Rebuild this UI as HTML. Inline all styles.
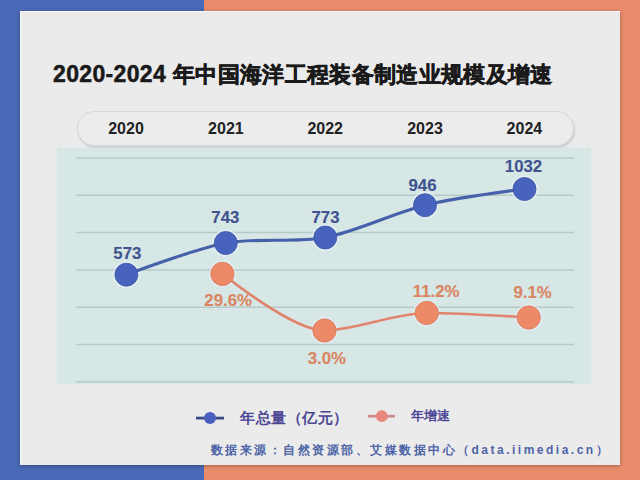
<!DOCTYPE html>
<html><head><meta charset="utf-8">
<style>
html,body{margin:0;padding:0;width:640px;height:480px;overflow:hidden;}
body{position:relative;font-family:"Liberation Sans",sans-serif;background:#4a69b7;}
.bgL{position:absolute;left:0;top:0;width:204px;height:480px;background:#4a69b7;}
.bgR{position:absolute;left:204px;top:0;width:436px;height:480px;background:#e88c6c;}
.card{position:absolute;left:20px;top:11px;width:600px;height:454px;background:#ebebeb;box-shadow:0 1px 4px rgba(0,0,0,0.3), inset 1px 1px 0 rgba(255,255,255,0.7);}
.title{position:absolute;left:53px;top:61px;font-size:23px;font-weight:bold;color:#1a1a1a;white-space:nowrap;letter-spacing:0.35px;-webkit-text-stroke:0.5px #1a1a1a;}
.tc{left:173px;top:60px;font-size:22px;letter-spacing:0.34px;-webkit-text-stroke:0.6px #1a1a1a;}
.pill{position:absolute;left:77px;top:111px;width:497px;height:35px;box-sizing:border-box;border-radius:18px;background:#ececec;border:1px solid rgba(0,0,0,0.08);
 box-shadow:1px 2px 2px rgba(0,0,0,0.13);}
.yr{position:absolute;top:120px;width:80px;text-align:center;font-size:16px;font-weight:bold;color:#222;}
.plot{position:absolute;left:57px;top:148px;width:534px;height:236px;background:#d6e7e6;box-shadow:0 0 1.5px #d6e7e6;}
.lbl{position:absolute;-webkit-text-stroke:0.15px currentColor;font-size:16.8px;font-weight:bold;white-space:nowrap;text-align:center;width:80px;}
.b{color:#41538f;}
.o{color:#d98561;}
.leg{position:absolute;font-size:14px;font-weight:bold;color:#4b4794;white-space:nowrap;}
.src{position:absolute;left:210.5px;top:441.5px;font-size:12px;font-weight:bold;letter-spacing:2.5px;color:#4d64a6;white-space:nowrap;}
svg{position:absolute;left:0;top:0;}
</style></head><body>
<div class="bgL"></div><div class="bgR"></div>
<div class="card"></div>
<div class="title"><span class="td">2020-2024</span></div><div class="title tc">年中国海洋工程装备制造业规模及增速</div>
<div class="pill"></div>
<div class="yr" style="left:86.0px">2020</div>
<div class="yr" style="left:185.9px">2021</div>
<div class="yr" style="left:285.2px">2022</div>
<div class="yr" style="left:385.0px">2023</div>
<div class="yr" style="left:484.4px">2024</div>
<div class="plot"></div>
<svg width="640" height="480" viewBox="0 0 640 480">
 <g stroke="#b8cac8" stroke-width="1.5">
  <line x1="76" y1="158.0" x2="574" y2="158.0"/>
  <line x1="76" y1="195.3" x2="574" y2="195.3"/>
  <line x1="76" y1="232.6" x2="574" y2="232.6"/>
  <line x1="76" y1="269.9" x2="574" y2="269.9"/>
  <line x1="76" y1="307.2" x2="574" y2="307.2"/>
  <line x1="76" y1="344.5" x2="574" y2="344.5"/>
  <line x1="76" y1="381.7" x2="574" y2="381.7"/>
 </g>
 <g fill="none" stroke="rgba(240,246,255,0.5)" stroke-width="2">
  <circle cx="126.4" cy="274.7" r="12.6"/>
  <circle cx="225.8" cy="243" r="12.6"/>
  <circle cx="325.3" cy="237.5" r="12.6"/>
  <circle cx="425" cy="205.2" r="12.6"/>
  <circle cx="524.5" cy="189" r="12.6"/>
  <circle cx="222.4" cy="273.9" r="12.6"/>
  <circle cx="324.5" cy="330.5" r="12.6"/>
  <circle cx="426.8" cy="313" r="12.6"/>
  <circle cx="528.7" cy="317.5" r="12.6"/>
 </g>
 <path id="bl" stroke-linecap="round" d="M126.40,274.75 C126.40,274.75 195.28,248.72 225.80,243.00 C254.95,237.54 296.17,243.00 325.30,237.50 C355.93,231.72 394.54,212.62 425.00,205.20 C454.30,198.07 524.50,189.00 524.50,189.00" fill="none" stroke="#4760aa" stroke-width="3.1"/>
 <path id="ol" d="M222.50,273.70 C222.50,273.70 292.05,330.50 324.50,330.50 C353.34,330.50 395.90,313.00 426.80,313.00 C457.16,313.00 528.70,317.50 528.70,317.50" fill="none" stroke="#e0846c" stroke-width="2.7"/>
 <g fill="#4863bd" stroke="#3f57a2" stroke-width="0.8">
  <circle cx="126.4" cy="274.7" r="11.5"/>
  <circle cx="225.8" cy="243" r="11.5"/>
  <circle cx="325.3" cy="237.5" r="11.5"/>
  <circle cx="425" cy="205.2" r="11.5"/>
  <circle cx="524.5" cy="189" r="11.5"/>
 </g>
 <g fill="#ec8966" stroke="#d97d64" stroke-width="0.8">
  <circle cx="222.4" cy="273.9" r="11.7"/>
  <circle cx="324.5" cy="330.5" r="11.7"/>
  <circle cx="426.8" cy="313" r="11.7"/>
  <circle cx="528.7" cy="317.5" r="11.7"/>
 </g>
 <line x1="196" y1="418.1" x2="224" y2="418.1" stroke="#3a4c86" stroke-width="2.8"/>
 <circle cx="210" cy="418.1" r="6" fill="#4a60c0"/>
 <line x1="368" y1="416.2" x2="395" y2="416.2" stroke="#cf8c88" stroke-width="2.8"/>
 <circle cx="381.8" cy="416.2" r="5.9" fill="#e8877e"/>
</svg>
<div class="lbl b" style="left:87.3px;top:244.2px">573</div>
<div class="lbl b" style="left:185.3px;top:208.2px">743</div>
<div class="lbl b" style="left:285.5px;top:207.8px">773</div>
<div class="lbl b" style="left:382.5px;top:176.0px">946</div>
<div class="lbl b" style="left:483.5px;top:156.8px">1032</div>
<div class="lbl o" style="left:188.1px;top:290.5px">29.6%</div>
<div class="lbl o" style="left:286.9px;top:349.3px">3.0%</div>
<div class="lbl o" style="left:396.1px;top:281.8px">11.2%</div>
<div class="lbl o" style="left:492.6px;top:282.6px">9.1%</div>
<div class="leg" style="left:240px;top:409px;font-size:15px;letter-spacing:0.5px">年总量（亿元）</div>
<div class="leg" style="left:411px;top:407px;font-size:13px">年增速</div>
<div class="src">数据来源：自然资源部、艾媒数据中心（data.iimedia.cn）</div>
</body></html>
